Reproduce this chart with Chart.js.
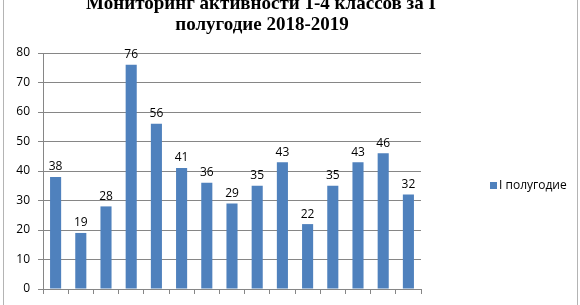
<!DOCTYPE html>
<html>
<head>
<meta charset="utf-8">
<script src="https://cdn.jsdelivr.net/npm/chart.js@4.4.0/dist/chart.umd.min.js"></script>
<style>
    html, body { margin: 0; padding: 0; background: #fff; }
    #wrap { width: 580px; height: 305px; position: relative; }
</style>
</head>
<body>
<div id="wrap"><canvas id="activityChart"></canvas></div>
<script>
// Chart data
const titleLines = ['Мониторинг активности 1-4 классов за I', 'полугодие 2018-2019'];
const seriesName = 'I полугодие';
const classes = ['1а', '1б', '1в', '2а', '2б', '2в', '2г', '3а', '3б', '3в', '3г', '4а', '4б', '4в', '4г'];
const activity = [38, 19, 28, 76, 56, 41, 36, 29, 35, 43, 22, 35, 43, 46, 32];
const yTicks = [0, 10, 20, 30, 40, 50, 60, 70, 80];

const barColor = '#4F81BD';
const axisColor = '#868686';
const labelFont = '"Open Sans", "DejaVu Sans", sans-serif';

// Value labels above bars, title, legend and sheet borders
const decorPlugin = {
    id: 'decor',
    afterDatasetsDraw(chart) {
        const ctx = chart.ctx;
        const meta = chart.getDatasetMeta(0);
        ctx.save();
        ctx.fillStyle = '#000';
        ctx.font = '12px ' + labelFont;
        ctx.textAlign = 'center';
        ctx.textBaseline = 'bottom';
        meta.data.forEach((bar, i) => {
            ctx.fillText(String(activity[i]), bar.x, bar.y - 4);
        });
        ctx.restore();
    },
    afterDraw(chart) {
        const ctx = chart.ctx;
        ctx.save();
        // title
        ctx.fillStyle = '#000';
        ctx.font = 'bold 19px "Liberation Serif", "Times New Roman", serif';
        ctx.textAlign = 'center';
        ctx.textBaseline = 'alphabetic';
        ctx.fillText(titleLines[0], 261, 9);
        ctx.fillText(titleLines[1], 262, 30);
        // legend
        ctx.fillStyle = barColor;
        ctx.fillRect(490, 182, 7, 7);
        ctx.fillStyle = '#000';
        ctx.font = '12px ' + labelFont;
        ctx.textAlign = 'left';
        ctx.textBaseline = 'middle';
        ctx.fillText(chart.data.datasets[0].label, 499, 186);
        // sheet borders
        ctx.strokeStyle = '#b4b4b4';
        ctx.lineWidth = 1;
        ctx.beginPath();
        ctx.moveTo(3.5, 0);
        ctx.lineTo(3.5, 305);
        ctx.moveTo(577.5, 0);
        ctx.lineTo(577.5, 305);
        ctx.stroke();
        ctx.restore();
    }
};

const ctx = document.getElementById('activityChart').getContext('2d');
const activityChart = new Chart(ctx, {
    type: 'bar',
    data: {
        labels: classes,
        datasets: [{
            label: seriesName,
            data: activity,
            backgroundColor: barColor,
            borderWidth: 0,
            barPercentage: 0.44,
            categoryPercentage: 1
        }]
    },
    options: {
        responsive: true,
        maintainAspectRatio: false,
        animation: false,
        layout: {
            padding: { top: 53, right: 159, bottom: 0, left: 0 }
        },
        plugins: {
            legend: { display: false },
            title: { display: false },
            tooltip: { enabled: false }
        },
        scales: {
            x: {
                offset: true,
                grid: {
                    offset: true,
                    drawOnChartArea: false,
                    color: axisColor,
                    tickLength: 5
                },
                border: { color: axisColor },
                ticks: { display: false },
                afterFit: function(scale) {
                    scale.height = 16;
                }
            },
            y: {
                min: 0,
                max: 80,
                afterBuildTicks: function(scale) {
                    scale.ticks = yTicks.map(v => ({ value: v }));
                },
                grid: {
                    color: axisColor,
                    tickLength: 5
                },
                border: { color: axisColor },
                ticks: {
                    color: '#000',
                    padding: 8,
                    font: { family: labelFont, size: 12 }
                },
                afterFit: function(scale) {
                    scale.width = 43;
                }
            }
        }
    },
    plugins: [decorPlugin]
});
</script>
</body>
</html>
